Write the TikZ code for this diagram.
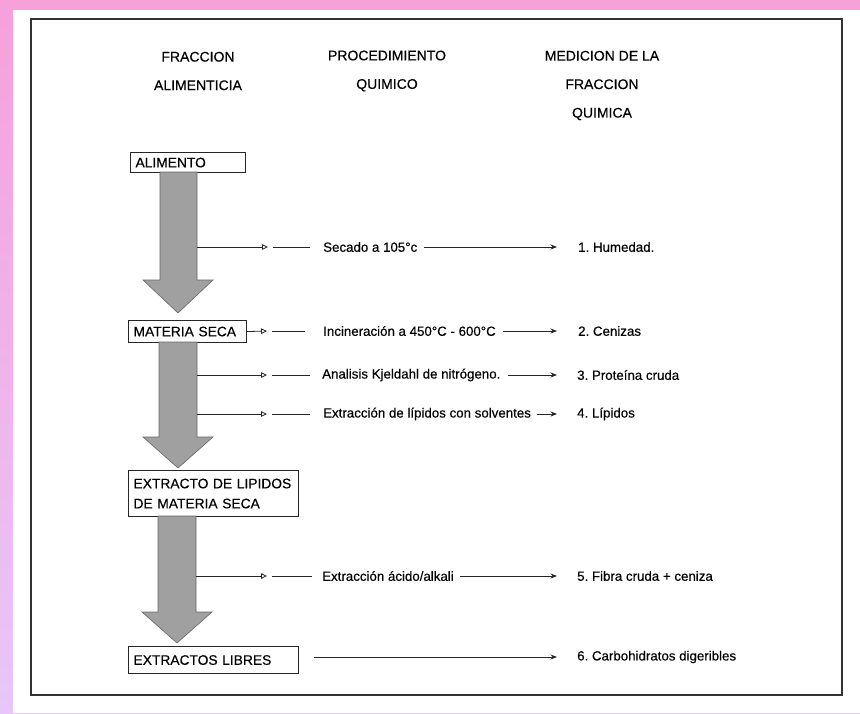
\documentclass[tikz,border=0pt]{standalone}
\usepackage{fontspec}
\setmainfont{Liberation Sans}
\newfontfamily\refont{Liberation Sans}[FakeBold=0.35]
\usetikzlibrary{arrows.meta,calc}
\definecolor{bgpink}{RGB}{247,160,218}
\definecolor{bglav}{RGB}{232,198,250}
\definecolor{arrowgray}{RGB}{160,160,160}
\frenchspacing
\begin{document}
\begin{tikzpicture}[x=1pt,y=-1pt,
 txt/.style={font=\refont\fontsize{13.3}{15}\selectfont, inner sep=0pt, anchor=west},
 hdr/.style={font=\refont\fontsize{14}{28.5}\selectfont, align=center, inner sep=0pt},
 box/.style={draw=black!85, line width=1.1pt, anchor=north west, inner xsep=5pt, inner ysep=0pt,
   font=\refont\fontsize{13.8}{20}\selectfont, align=left},
 bigarrow/.style={fill=arrowgray, draw=black!60, line width=0.6pt},
 conn/.style={line width=0.8pt, draw=black!85},
 tip/.style={-{Stealth[length=6.5pt,width=5pt]}},
 midtip/.style={-{Triangle[length=6pt,width=5.5pt,open]}},
]
% background
\shade[top color=bgpink, bottom color=bglav] (0,0) rectangle (860,713);
\fill[white] (13,10) rectangle (860,713);
\useasboundingbox (0,0) rectangle (860,713);
% frame
\draw[line width=1.5pt, draw=black!80] (31,19) rectangle (842,695);

% headers
\node[hdr] (h1) at (198,71) {FRACCION\\ALIMENTICIA};
\node[hdr] (h2) at (387,71) {PROCEDIMIENTO\\QUIMICO};
\node[hdr] (h3) at (602,85.5) {MEDICION DE LA\\FRACCION\\QUIMICA};

% boxes
\node[box, text width=105pt, minimum height=20pt] (alim) at (130,152) {ALIMENTO};
\node[box, text width=108pt, minimum height=22pt] (mseca) at (128,320) {MATERIA SECA};
\node[box, text width=160pt, minimum height=46pt] (extr) at (128,470) {EXTRACTO DE LIPIDOS\\DE MATERIA SECA};
\node[box, text width=160pt, minimum height=27pt] (libres) at (128,646) {EXTRACTOS LIBRES};

% big arrows
\draw[bigarrow] (160,172) -- (197,172) -- (197,280) -- (213,280) -- (178,313) -- (143,280) -- (160,280) -- cycle;
\draw[bigarrow] (159,342) -- (197,342) -- (197,437) -- (213,437) -- (178,468) -- (143,437) -- (159,437) -- cycle;
\draw[bigarrow] (158,516) -- (196,516) -- (196,612) -- (212,612) -- (177,643) -- (142,612) -- (158,612) -- cycle;

% procedure texts
\node[txt] (p1) at (323,247) {Secado a 105°c};
\node[txt] (p2) at (323,331) {Incineración a 450°C - 600°C};
\node[txt] (p3) at (322,375) {Analisis Kjeldahl de nitrógeno.};
\node[txt] (p4) at (323,414) {Extracción de lípidos con solventes};
\node[txt] (p5) at (322,576) {Extracción ácido/alkali};

% result texts
\node[txt] (r1) at (578,247) {1. Humedad.};
\node[txt] (r2) at (578,331) {2. Cenizas};
\node[txt] (r3) at (577,375) {3. Proteína cruda};
\node[txt] (r4) at (577,414) {4. Lípidos};
\node[txt] (r5) at (577,576) {5. Fibra cruda + ceniza};
\node[txt] (r6) at (577,657) {6. Carbohidratos digeribles};

% left connectors (from arrow shafts / box)
\coordinate (s1) at (197,247); \coordinate (m1) at (268,247); \coordinate (n1) at (273,247);
\coordinate (m2) at (267,331); \coordinate (n2) at (272,331);
\coordinate (s3) at (197,375); \coordinate (m3) at (267,375); \coordinate (n3) at (272,375);
\coordinate (s4) at (197,414); \coordinate (m4) at (267,414); \coordinate (n4) at (272,414);
\coordinate (s5) at (196,576); \coordinate (m5) at (267,576); \coordinate (n5) at (272,576);

\draw[conn, midtip] (s1) -- (m1);
\draw[conn] (n1) -- ([xshift=-13pt]p1.west);
\draw[conn, midtip] (mseca.east) -- (m2);
\draw[conn] (n2) -- ([xshift=-18pt]p2.west);
\draw[conn, midtip] (s3) -- (m3);
\draw[conn] (n3) -- ([xshift=-12pt]p3.west);
\draw[conn, midtip] (s4) -- (m4);
\draw[conn] (n4) -- ([xshift=-13pt]p4.west);
\draw[conn, midtip] (s5) -- (m5);
\draw[conn] (n5) -- ([xshift=-10pt]p5.west);

% right connectors
\draw[conn, tip] ([xshift=7pt]p1.east) -- ([xshift=-21pt]r1.west);
\draw[conn, tip] ([xshift=7pt]p2.east) -- ([xshift=-21pt]r2.west);
\draw[conn, tip] ([xshift=7pt]p3.east) -- ([xshift=-20pt]r3.west);
\draw[conn, tip] ([xshift=6pt]p4.east) -- ([xshift=-20pt]r4.west);
\draw[conn, tip] ([xshift=6pt]p5.east) -- ([xshift=-20pt]r5.west);
\draw[conn, tip] ($(libres.east |- r6.west)+(15,0)$) -- ([xshift=-20pt]r6.west);
\end{tikzpicture}
\end{document}
